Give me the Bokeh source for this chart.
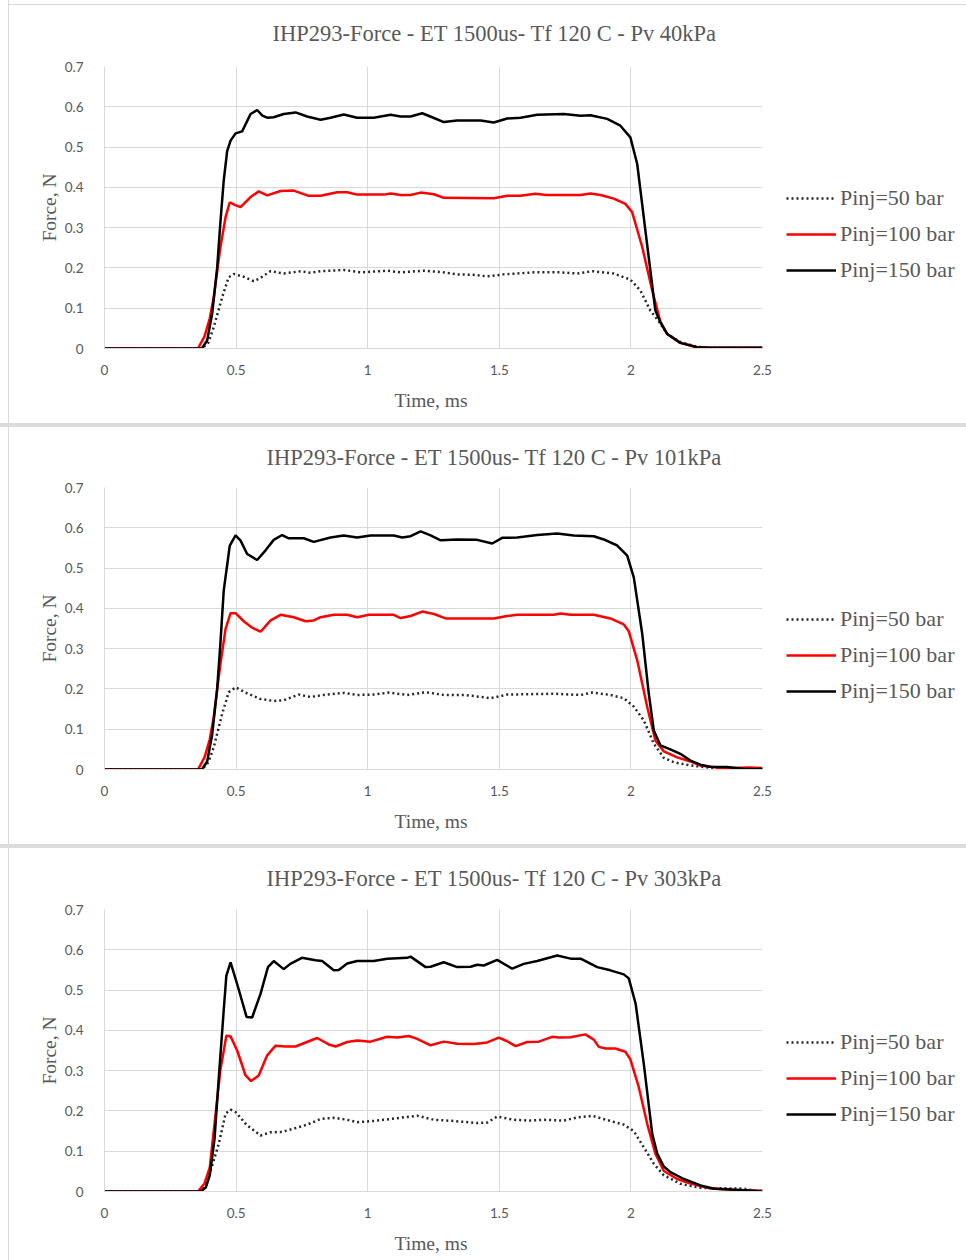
from bokeh.plotting import figure
from bokeh.layouts import column, row
from bokeh.models import Range1d, FixedTicker, Legend, LegendItem, InlineStyleSheet
from bokeh.embed import file_html
from bokeh.resources import INLINE

# ---------------- data ----------------
titles = ["IHP293-Force  - ET 1500us- Tf 120 C - Pv 40kPa",
          "IHP293-Force  - ET 1500us- Tf 120 C - Pv 101kPa",
          "IHP293-Force  - ET 1500us- Tf 120 C - Pv 303kPa"]
series_names = ["Pinj=50 bar", "Pinj=100 bar", "Pinj=150 bar"]
x_ticks = [0, 0.5, 1, 1.5, 2, 2.5]
x_tick_labels = ["0", "0.5", "1", "1.5", "2", "2.5"]
y_ticks = [0, 0.1, 0.2, 0.3, 0.4, 0.5, 0.6, 0.7]
y_tick_labels = ["0", "0.1", "0.2", "0.3", "0.4", "0.5", "0.6", "0.7"]

# Panel 1: Pv 40 kPa
p1_t50 = [0, 0.37, 0.395, 0.415, 0.447, 0.472, 0.491, 0.529, 0.567, 0.592, 0.631, 0.681, 0.745, 0.783, 0.821, 0.909, 0.972, 1.074, 1.125, 1.213, 1.277, 1.340, 1.400, 1.454, 1.517, 1.631, 1.733, 1.796, 1.853, 1.935, 1.998, 2.036, 2.074, 2.112, 2.138, 2.188, 2.252, 2.30, 2.5]
p1_f50 = [0, 0, 0.015, 0.053, 0.127, 0.177, 0.185, 0.178, 0.167, 0.175, 0.192, 0.186, 0.192, 0.188, 0.192, 0.195, 0.189, 0.193, 0.189, 0.193, 0.190, 0.184, 0.183, 0.179, 0.184, 0.189, 0.189, 0.186, 0.192, 0.186, 0.171, 0.144, 0.094, 0.062, 0.036, 0.016, 0.004, 0.002, 0.002]
p1_t100 = [0, 0.355, 0.38, 0.40, 0.415, 0.44, 0.460, 0.476, 0.497, 0.517, 0.555, 0.586, 0.618, 0.669, 0.719, 0.776, 0.821, 0.884, 0.922, 0.960, 1.061, 1.087, 1.125, 1.163, 1.201, 1.252, 1.289, 1.479, 1.530, 1.580, 1.637, 1.680, 1.809, 1.846, 1.885, 1.935, 1.979, 2.005, 2.043, 2.081, 2.112, 2.138, 2.188, 2.252, 2.30, 2.5]
p1_f100 = [0, 0, 0.03, 0.075, 0.127, 0.25, 0.326, 0.363, 0.356, 0.351, 0.376, 0.390, 0.380, 0.391, 0.392, 0.379, 0.379, 0.388, 0.388, 0.382, 0.382, 0.385, 0.381, 0.381, 0.387, 0.383, 0.374, 0.373, 0.379, 0.379, 0.384, 0.381, 0.381, 0.385, 0.381, 0.372, 0.359, 0.338, 0.252, 0.144, 0.067, 0.036, 0.014, 0.003, 0.002, 0.002]
p1_t150 = [0, 0.37, 0.39, 0.409, 0.428, 0.44, 0.453, 0.466, 0.479, 0.498, 0.523, 0.555, 0.580, 0.600, 0.618, 0.643, 0.681, 0.726, 0.770, 0.821, 0.859, 0.909, 0.960, 1.023, 1.087, 1.125, 1.163, 1.207, 1.245, 1.289, 1.340, 1.429, 1.479, 1.530, 1.581, 1.644, 1.745, 1.809, 1.846, 1.910, 1.960, 1.998, 2.024, 2.055, 2.093, 2.112, 2.138, 2.188, 2.252, 2.30, 2.5]
p1_f150 = [0, 0, 0.02, 0.086, 0.20, 0.31, 0.417, 0.49, 0.516, 0.534, 0.539, 0.582, 0.592, 0.578, 0.573, 0.574, 0.582, 0.586, 0.576, 0.568, 0.573, 0.581, 0.573, 0.573, 0.580, 0.576, 0.576, 0.584, 0.574, 0.562, 0.566, 0.566, 0.561, 0.571, 0.573, 0.580, 0.582, 0.578, 0.579, 0.570, 0.553, 0.524, 0.458, 0.293, 0.094, 0.065, 0.036, 0.014, 0.003, 0.002, 0.002]

# Panel 2: Pv 101 kPa
p2_t50 = [0, 0.37, 0.395, 0.415, 0.447, 0.472, 0.498, 0.542, 0.593, 0.643, 0.681, 0.738, 0.783, 0.833, 0.909, 0.960, 1.023, 1.080, 1.150, 1.220, 1.290, 1.370, 1.467, 1.530, 1.707, 1.809, 1.853, 1.922, 1.973, 2.011, 2.049, 2.087, 2.125, 2.163, 2.226, 2.28, 2.35, 2.5]
p2_f50 = [0, 0, 0.018, 0.055, 0.138, 0.192, 0.204, 0.189, 0.175, 0.170, 0.172, 0.186, 0.180, 0.185, 0.190, 0.185, 0.186, 0.191, 0.185, 0.192, 0.185, 0.185, 0.177, 0.186, 0.188, 0.185, 0.191, 0.185, 0.177, 0.156, 0.122, 0.064, 0.029, 0.018, 0.010, 0.006, 0.001, 0.001]
p2_t100 = [0, 0.355, 0.38, 0.40, 0.415, 0.44, 0.460, 0.479, 0.498, 0.529, 0.561, 0.593, 0.631, 0.669, 0.719, 0.764, 0.795, 0.821, 0.871, 0.922, 0.960, 1.004, 1.099, 1.125, 1.163, 1.207, 1.252, 1.296, 1.479, 1.530, 1.568, 1.707, 1.733, 1.770, 1.859, 1.922, 1.973, 1.992, 2.024, 2.062, 2.093, 2.125, 2.176, 2.226, 2.264, 2.35, 2.45, 2.5]
p2_f100 = [0, 0, 0.03, 0.075, 0.130, 0.26, 0.349, 0.388, 0.388, 0.368, 0.352, 0.342, 0.370, 0.384, 0.378, 0.368, 0.370, 0.378, 0.384, 0.384, 0.378, 0.384, 0.384, 0.376, 0.381, 0.392, 0.386, 0.375, 0.375, 0.381, 0.384, 0.384, 0.387, 0.384, 0.384, 0.375, 0.360, 0.343, 0.271, 0.155, 0.072, 0.045, 0.030, 0.020, 0.010, 0.003, 0.005, 0.004]
p2_t150 = [0, 0.37, 0.39, 0.409, 0.428, 0.44, 0.453, 0.476, 0.498, 0.517, 0.542, 0.580, 0.612, 0.643, 0.675, 0.700, 0.757, 0.795, 0.859, 0.909, 0.960, 1.011, 1.099, 1.131, 1.163, 1.201, 1.239, 1.277, 1.340, 1.416, 1.473, 1.511, 1.568, 1.644, 1.720, 1.783, 1.859, 1.897, 1.948, 1.986, 2.011, 2.043, 2.068, 2.087, 2.112, 2.150, 2.188, 2.226, 2.264, 2.30, 2.366, 2.43, 2.5]
p2_f150 = [0, 0, 0.02, 0.086, 0.20, 0.31, 0.444, 0.556, 0.581, 0.568, 0.535, 0.520, 0.544, 0.570, 0.582, 0.574, 0.574, 0.565, 0.576, 0.581, 0.576, 0.581, 0.581, 0.576, 0.579, 0.591, 0.581, 0.569, 0.571, 0.570, 0.561, 0.575, 0.576, 0.582, 0.586, 0.581, 0.579, 0.571, 0.556, 0.531, 0.477, 0.337, 0.188, 0.097, 0.060, 0.050, 0.039, 0.022, 0.012, 0.007, 0.006, 0.001, 0.001]

# Panel 3: Pv 303 kPa
p3_t50 = [0, 0.37, 0.40, 0.434, 0.460, 0.479, 0.498, 0.542, 0.593, 0.631, 0.675, 0.719, 0.770, 0.821, 0.871, 0.922, 0.960, 1.023, 1.099, 1.188, 1.252, 1.327, 1.416, 1.454, 1.492, 1.555, 1.618, 1.669, 1.745, 1.796, 1.853, 1.922, 1.973, 2.011, 2.049, 2.087, 2.125, 2.138, 2.188, 2.264, 2.43, 2.47, 2.5]
p3_f50 = [0, 0, 0.045, 0.118, 0.193, 0.203, 0.197, 0.164, 0.139, 0.147, 0.148, 0.156, 0.166, 0.180, 0.183, 0.178, 0.172, 0.175, 0.181, 0.188, 0.178, 0.175, 0.170, 0.171, 0.186, 0.178, 0.176, 0.178, 0.176, 0.184, 0.188, 0.175, 0.166, 0.150, 0.110, 0.069, 0.040, 0.036, 0.019, 0.009, 0.007, 0.002, 0.001]
p3_t100 = [0, 0.355, 0.38, 0.40, 0.415, 0.44, 0.463, 0.479, 0.504, 0.536, 0.557, 0.586, 0.618, 0.650, 0.688, 0.726, 0.757, 0.808, 0.852, 0.878, 0.922, 0.960, 1.011, 1.074, 1.112, 1.156, 1.188, 1.239, 1.289, 1.340, 1.404, 1.454, 1.498, 1.530, 1.562, 1.606, 1.650, 1.701, 1.726, 1.771, 1.827, 1.859, 1.878, 1.904, 1.941, 1.979, 1.998, 2.030, 2.062, 2.093, 2.125, 2.176, 2.226, 2.30, 2.40, 2.5]
p3_f100 = [0, 0, 0.02, 0.06, 0.15, 0.30, 0.387, 0.385, 0.350, 0.288, 0.274, 0.288, 0.338, 0.362, 0.360, 0.360, 0.368, 0.381, 0.365, 0.360, 0.371, 0.375, 0.372, 0.384, 0.382, 0.386, 0.379, 0.363, 0.372, 0.367, 0.366, 0.370, 0.382, 0.373, 0.361, 0.371, 0.372, 0.384, 0.382, 0.383, 0.390, 0.377, 0.359, 0.355, 0.355, 0.347, 0.328, 0.259, 0.168, 0.094, 0.051, 0.031, 0.020, 0.008, 0.004, 0.002]
p3_t150 = [0, 0.365, 0.385, 0.40, 0.418, 0.434, 0.453, 0.463, 0.479, 0.504, 0.540, 0.561, 0.593, 0.621, 0.643, 0.681, 0.706, 0.750, 0.802, 0.827, 0.871, 0.890, 0.922, 0.960, 1.023, 1.074, 1.150, 1.163, 1.220, 1.239, 1.289, 1.340, 1.391, 1.416, 1.441, 1.492, 1.549, 1.593, 1.644, 1.720, 1.771, 1.809, 1.872, 1.922, 1.973, 1.992, 2.018, 2.049, 2.081, 2.100, 2.125, 2.150, 2.201, 2.264, 2.316, 2.416, 2.5]
p3_f150 = [0, 0, 0.01, 0.04, 0.13, 0.28, 0.45, 0.536, 0.569, 0.515, 0.433, 0.432, 0.491, 0.557, 0.572, 0.552, 0.565, 0.580, 0.574, 0.572, 0.549, 0.550, 0.566, 0.572, 0.572, 0.578, 0.580, 0.583, 0.557, 0.558, 0.569, 0.557, 0.558, 0.563, 0.561, 0.575, 0.553, 0.565, 0.572, 0.586, 0.578, 0.578, 0.557, 0.549, 0.539, 0.529, 0.466, 0.317, 0.143, 0.094, 0.062, 0.048, 0.031, 0.015, 0.007, 0.004, 0.0]

panels = [
    (titles[0], [(p1_t50, p1_f50), (p1_t100, p1_f100), (p1_t150, p1_f150)]),
    (titles[1], [(p2_t50, p2_f50), (p2_t100, p2_f100), (p2_t150, p2_f150)]),
    (titles[2], [(p3_t50, p3_f50), (p3_t100, p3_f100), (p3_t150, p3_f150)]),
]

# ---------------- styling ----------------
GRID = "#d9d9d9"
TXT = "#595959"
SERIF = "Liberation Serif"
SANS = "Lato"
styles = [dict(line_color="#262626", line_width=2.5, line_dash="2 3"),
          dict(line_color="#ff0000", line_width=2.5),
          dict(line_color="#000000", line_width=2.5)]

MAIN_W = 780
LEG_W = 966 - MAIN_W
# (height, border_top, border_bottom, title offset, title standoff, legend y)
geoms = [(423, 66, 75, 168, 37, 65),
         (417, 60, 75, 162, 32, 65),
         (412, 61, 69, 162, 33, 64)]

left_rule = InlineStyleSheet(css=":host::before { content: ''; position: absolute; left: 8px; top: 0; bottom: 0; width: 1px; background: #d9d9d9; z-index: 10; pointer-events: none; }")
top_rule = InlineStyleSheet(css=":host::after { content: ''; position: absolute; left: 8px; right: 0; top: 4px; height: 1px; background: #d9d9d9; z-index: 10; pointer-events: none; }")


def make_panel(title, data, geom, first):
    h, bt, bb, toff, tstand, ly = geom
    p = figure(width=MAIN_W, height=h, output_backend="svg", toolbar_location=None,
               x_range=Range1d(0, 2.5), y_range=Range1d(0, 0.7),
               min_border_left=104, min_border_right=MAIN_W - 762,
               min_border_top=bt, min_border_bottom=bb,
               title=title)
    p.title.align = "left"
    p.title.vertical_align = "top"
    p.title.offset = toff
    p.title.standoff = tstand
    p.title.text_font = SERIF
    p.title.text_font_size = "22.5px"
    p.title.text_font_style = "normal"
    p.title.text_color = TXT
    p.outline_line_color = None
    p.background_fill_color = "white"
    p.border_fill_color = "white"

    for ax in (p.xaxis[0], p.yaxis[0]):
        ax.axis_line_color = GRID
        ax.major_tick_line_color = None
        ax.minor_tick_line_color = None
        ax.major_label_text_font = SANS
        ax.major_label_text_font_size = "13.5px"
        ax.major_label_text_color = TXT
        ax.axis_label_text_font = SERIF
        ax.axis_label_text_font_size = "19.5px"
        ax.axis_label_text_font_style = "normal"
        ax.axis_label_text_color = TXT
    p.xaxis.ticker = FixedTicker(ticks=x_ticks)
    p.xaxis.major_label_overrides = dict(zip(x_ticks, x_tick_labels))
    p.yaxis.ticker = FixedTicker(ticks=y_ticks)
    p.yaxis.major_label_overrides = dict(zip(y_ticks, y_tick_labels))
    p.xaxis.axis_label = "Time,  ms"
    p.yaxis.axis_label = "Force, N"
    p.xaxis.major_label_standoff = 10
    p.xaxis.axis_label_standoff = 12
    p.yaxis.major_label_standoff = 15
    p.yaxis.axis_label_standoff = 2

    p.xgrid.ticker = FixedTicker(ticks=x_ticks)
    p.ygrid.ticker = FixedTicker(ticks=y_ticks)
    p.grid.grid_line_color = GRID
    p.grid.grid_line_width = 1

    for (t, f), st in zip(data, styles):
        p.line(t, f, **st)

    # legend lives in a narrow companion figure to the right of the chart;
    # its series are drawn there too, but outside that figure's visible range
    lg = figure(width=LEG_W, height=h, output_backend="svg", toolbar_location=None,
                x_range=Range1d(10, 11), y_range=Range1d(10, 11),
                x_axis_type=None, y_axis_type=None,
                min_border_left=0, min_border_right=0,
                min_border_top=0, min_border_bottom=0)
    lg.grid.visible = False
    lg.outline_line_color = None
    lg.background_fill_color = "white"
    lg.border_fill_color = "white"
    items = []
    for name, (t, f), st in zip(series_names, data, styles):
        r = lg.line(t, f, **st)
        items.append(LegendItem(label=name, renderers=[r]))
    legend = Legend(items=items, location=(786 - MAIN_W, ly), orientation="vertical",
                    border_line_color=None, background_fill_alpha=0,
                    label_text_font=SERIF, label_text_font_size="22px",
                    label_text_color=TXT, glyph_width=50, glyph_height=20,
                    label_height=20, label_standoff=4, spacing=10,
                    padding=0, margin=0)
    lg.add_layout(legend)
    sheets = [left_rule, top_rule] if first else [left_rule]
    return row(p, lg, spacing=0, styles={"background-color": "white", "position": "relative"},
               stylesheets=sheets)


rows = [make_panel(t, d, g, i == 0) for i, ((t, d), g) in enumerate(zip(panels, geoms))]
layout = column(*rows, spacing=4, styles={"background-color": "#dcdcdc"})

open("out.html", "w").write(file_html(layout, INLINE))
